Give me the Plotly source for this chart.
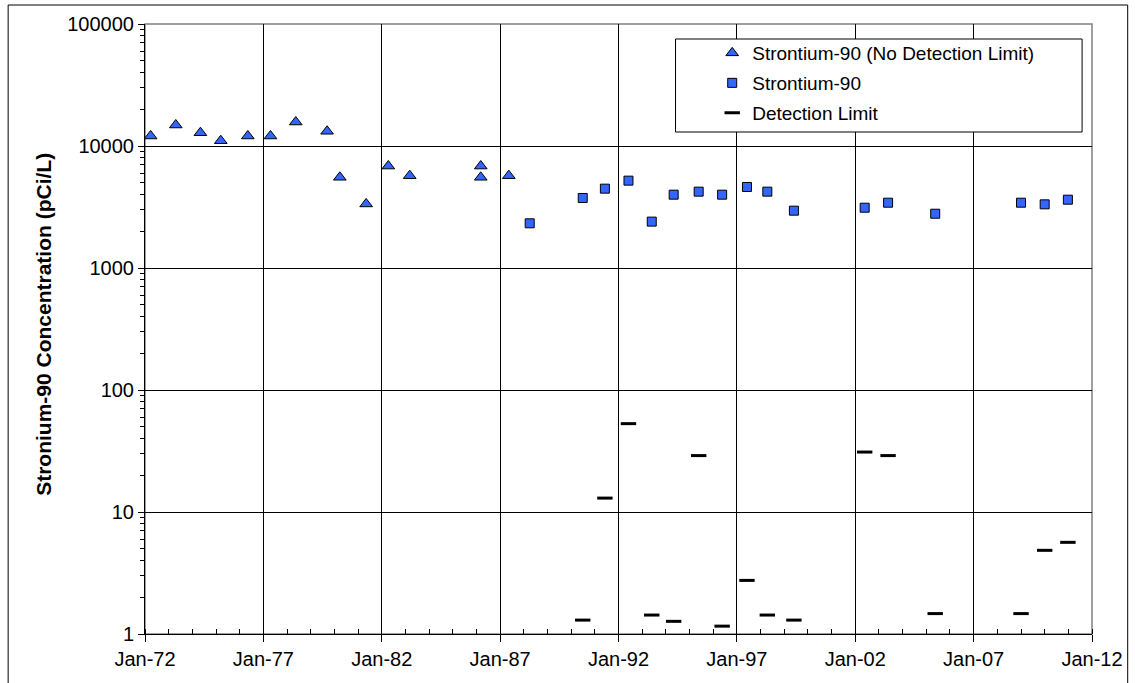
import plotly.graph_objects as go

# ---- data ----
nodl_dates = ["1972-03-28", "1973-04-20", "1974-05-05", "1975-03-15", "1976-05-05",
              "1977-04-20", "1978-05-15", "1979-09-10", "1980-03-25", "1981-05-05",
              "1982-04-12", "1983-03-08", "1986-03-08", "1986-03-08", "1987-05-15"]
nodl_values = [12080, 14860, 12850, 11050, 12080,
               12080, 15730, 13200, 5540, 3350,
               6850, 5710, 6850, 5540, 5710]

sr_dates = ["1988-04-01", "1990-06-28", "1991-06-05", "1992-06-03", "1993-05-28",
            "1994-05-01", "1995-05-22", "1996-05-18", "1997-06-05", "1998-04-15",
            "1999-05-30", "2002-05-26", "2003-05-22", "2005-05-18", "2009-01-01",
            "2010-01-01", "2010-12-25"]
sr_values = [2325, 3750, 4470, 5200, 2400,
             3990, 4225, 3990, 4615, 4225,
             2950, 3120, 3430, 2785, 3430,
             3325, 3630]

dl_dates = ["1990-06-28", "1991-06-05", "1992-06-03", "1993-05-28", "1994-05-01",
            "1995-05-22", "1996-05-18", "1997-06-05", "1998-04-15", "1999-05-30",
            "2002-05-26", "2003-05-22", "2005-05-18", "2009-01-01", "2010-01-01",
            "2010-12-25"]
dl_values = [1.30, 13.0, 53.0, 1.43, 1.27,
             29.0, 1.16, 2.75, 1.43, 1.30,
             31.0, 29.0, 1.47, 1.47, 4.85,
             5.64]

series_names = ["Strontium-90 (No Detection Limit)", "Strontium-90", "Detection Limit"]
y_tick_vals = [1, 10, 100, 1000, 10000, 100000]
y_tick_text = ["1", "10", "100", "1000", "10000", "100000"]
x_range = ["1972-01-01", "2012-01-01"]
y_title = "Stronium-90 Concentration (pCi/L)"

FONT = "Liberation Sans, Arial, sans-serif"
BLUE = "#3366FF"

fig = go.Figure()
fig.add_trace(go.Scatter(
    x=nodl_dates, y=nodl_values, mode="markers", name=series_names[0],
    marker=dict(symbol="triangle-up", size=11, color=BLUE, line=dict(color="black", width=1)),
    legend="legend", showlegend=True, cliponaxis=False))
fig.add_trace(go.Scatter(
    x=sr_dates, y=sr_values, mode="markers", name=series_names[1],
    marker=dict(symbol="square", size=9, color=BLUE, line=dict(color="black", width=1)),
    legend="legend2", showlegend=True, cliponaxis=False))
fig.add_trace(go.Scatter(
    x=dl_dates, y=dl_values, mode="markers", name=series_names[2],
    marker=dict(symbol="line-ew", size=11, color="black", line=dict(color="black", width=3)),
    legend="legend3", showlegend=True, cliponaxis=False))

W, H = 1135, 683
L, R, T, B = 145, 35, 24, 49
pw, ph = W - L - R, H - T - B

def px(xp):
    return (xp - L) / pw

def py(yp):
    return (H - B - yp) / ph

leg_common = dict(xanchor="left", yanchor="middle", bgcolor="rgba(0,0,0,0)",
                  borderwidth=0, font=dict(family=FONT, size=19, color="black"),
                  visible=True)
lx = px(717)
fig.update_layout(
    width=W, height=H,
    showlegend=True,
    margin=dict(l=L, r=R, t=T, b=B),
    paper_bgcolor="white", plot_bgcolor="white",
    font=dict(family=FONT, size=20, color="black"),
    legend=dict(x=lx, y=py(53), **leg_common),
    legend2=dict(x=lx, y=py(83), **leg_common),
    legend3=dict(x=lx, y=py(113), **leg_common),
    xaxis=dict(
        type="date", range=x_range, tick0="1972-01-01", dtick="M60",
        tickformat="%b-%y", ticks="outside", ticklen=7, tickcolor="black",
        showline=True, linecolor="black", linewidth=1,
        showgrid=True, gridcolor="black", gridwidth=1, zeroline=False,
        tickfont=dict(family=FONT, size=20, color="black"),
        minor=dict(dtick="M12", tick0="1972-01-01", ticks="inside", ticklen=5,
                   tickcolor="black", showgrid=False),
    ),
    yaxis=dict(
        type="log", range=[0, 5], tickvals=y_tick_vals, ticktext=y_tick_text,
        ticks="outside", ticklen=6, tickcolor="black",
        showline=True, linecolor="black", linewidth=1,
        showgrid=True, gridcolor="black", gridwidth=1, zeroline=False,
        tickfont=dict(family=FONT, size=20, color="black"),
        minor=dict(dtick="D1", ticks="outside", ticklen=4, tickcolor="black", showgrid=False),
    ),
    shapes=[
        dict(type="rect", xref="paper", yref="paper", x0=px(7), x1=px(1136),
             y0=py(684), y1=py(5), line=dict(color="black", width=1), layer="below"),
        dict(type="rect", xref="paper", yref="paper", x0=0, x1=1, y0=0, y1=1,
             line=dict(color="#808080", width=1.5), layer="below"),
        dict(type="rect", xref="paper", yref="paper", x0=px(680), x1=px(1090),
             y0=py(132), y1=py(39), line=dict(color="black", width=1),
             fillcolor="white", layer="above"),
    ],
    annotations=[
        dict(text="<b>" + y_title + "</b>", xref="paper", yref="paper",
             x=px(42), y=py(324), textangle=-90, showarrow=False,
             font=dict(family=FONT, size=21, color="black"),
             xanchor="center", yanchor="middle"),
    ],
)

fig.write_html("out.html")
